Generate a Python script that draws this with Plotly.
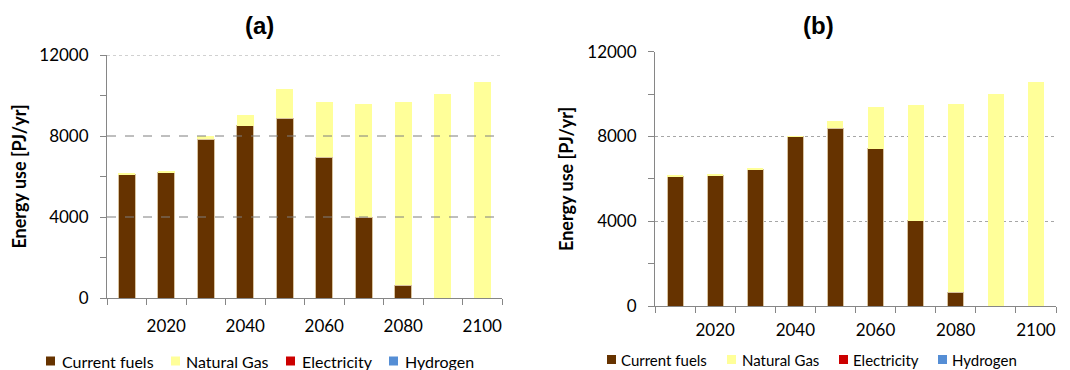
import plotly.graph_objects as go

years = [2010, 2020, 2030, 2040, 2050, 2060, 2070, 2080, 2090, 2100]
tick_years = [2020, 2040, 2060, 2080, 2100]
tick_labels = ["2020", "2040", "2060", "2080", "2100"]
y_ticks = [0, 4000, 8000, 12000]
y_tick_labels = ["0", "4000", "8000", "12000"]
y_minor = [2000, 6000, 10000]
grid_vals = [4000, 8000, 12000]

# Panel (a)
a_current = [6100, 6200, 7830, 8500, 8880, 6950, 4000, 630, 0, 0]
a_gas = [50, 50, 170, 530, 1420, 2740, 5600, 9030, 10070, 10680]
a_elec = [0] * 10
a_h2 = [0] * 10

# Panel (b)
b_current = [6130, 6170, 6460, 8000, 8380, 7410, 4030, 645, 0, 0]
b_gas = [20, 30, 20, 30, 350, 2000, 5440, 8890, 9990, 10570]
b_elec = [0] * 10
b_h2 = [0] * 10

series_names = ["Current fuels", "Natural Gas", "Electricity", "Hydrogen"]
colors = ["#663300", "#FFFF99", "#CC0000", "#558ED5"]
edge = ["#d8c3a0", "#FFFF99", "#CC0000", "#558ED5"]
edge_w = [1, 0, 0, 0]

# the page body has an 8px margin: the figure is offset by it
OFF = 8
W, H = 1070 - OFF, 370 - OFF
FONT = "Lato"

fig = go.Figure()

def px_x(p):
    return (p - OFF) / W

def px_y(p):
    return 1 - (p - OFF) / H

panels = [
    dict(xa="x", ya="y", data=[a_current, a_gas, a_elec, a_h2], bw=4.2,
         xdom=(107, 502), ydom=(298, 55), standoff=13,
         legend_sq=[46, 171, 286, 389], legend_tx=[61, 185, 301, 404], legend_y=361,
         legend_size=16, title="<b>(a)</b>", title_x=259),
    dict(xa="x2", ya="y2", data=[b_current, b_gas, b_elec, b_h2], bw=4.0,
         xdom=(655, 1056), ydom=(306, 51.7), standoff=9,
         legend_sq=[607, 727, 839, 938], legend_tx=[620, 741, 852, 951], legend_y=359.5,
         legend_size=15, title="<b>(b)</b>", title_x=818),
]

for p in panels:
    for name, vals, c, e, ew in zip(series_names, p["data"], colors, edge, edge_w):
        fig.add_trace(go.Bar(
            x=years, y=vals, name=name, xaxis=p["xa"], yaxis=p["ya"],
            width=p["bw"], showlegend=False,
            marker=dict(color=c, line=dict(color=e, width=ew)),
            hovertemplate="%{x}: %{y}<extra>" + name + "</extra>",
        ))

boundaries = [2005 + 10 * i for i in range(11)]

def xaxis_cfg(p, anchor):
    return dict(
        domain=[px_x(p["xdom"][0]), px_x(p["xdom"][1])], anchor=anchor, range=[2005, 2105],
        tickmode="array", tickvals=tick_years, ticktext=tick_labels,
        ticks="", ticklabelstandoff=p["standoff"], showgrid=False, zeroline=False,
        showline=True, linecolor="#868686", linewidth=1, automargin=False,
        tickfont=dict(family=FONT, size=17, color="#000"),
        minor=dict(tickmode="array", tickvals=boundaries, ticks="outside",
                   ticklen=6, tickcolor="#868686", tickwidth=1, showgrid=False),
        fixedrange=True,
    )

def yaxis_cfg(p, anchor, grid):
    return dict(
        domain=[px_y(p["ydom"][0]), px_y(p["ydom"][1])], anchor=anchor, range=[0, 12001],
        tickmode="array", tickvals=y_ticks, ticktext=y_tick_labels,
        ticks="outside", ticklen=6, tickcolor="#868686", ticklabelstandoff=8,
        showgrid=grid, gridcolor="#a6a6a6", griddash="dot", gridwidth=1,
        zeroline=False, showline=True, linecolor="#868686", linewidth=1, automargin=False,
        tickfont=dict(family=FONT, size=17, color="#000"),
        minor=dict(tickmode="array", tickvals=y_minor, ticks="outside",
                   ticklen=6, tickcolor="#868686", showgrid=False),
        title=dict(text="<b>Energy use [PJ/yr]</b>",
                   font=dict(family=FONT, size=18, color="#000"), standoff=8),
        fixedrange=True,
    )

shapes = []
annotations = []

# panel (a): dashed gridlines drawn above the bars
for g in grid_vals:
    shapes.append(dict(type="line", xref="x domain", yref="y", x0=0, x1=1, y0=g, y1=g,
                       line=dict(color="#7f7f7f" if g < 12000 else "#a6a6a6", width=1,
                                 dash="dash" if g < 12000 else "dot"),
                       layer="above"))

for p in panels:
    annotations.append(dict(text=p["title"], x=px_x(p["title_x"]), y=px_y(25),
                            xref="paper", yref="paper", showarrow=False,
                            xanchor="center", yanchor="middle",
                            font=dict(family="Liberation Sans", size=24, color="#000")))
    for name, c, sx, tx in zip(series_names, colors, p["legend_sq"], p["legend_tx"]):
        ly = p["legend_y"]
        shapes.append(dict(type="rect", xref="paper", yref="paper",
                           x0=px_x(sx), x1=px_x(sx + 9), y0=px_y(ly - 4.5), y1=px_y(ly + 4.5),
                           fillcolor=c, line=dict(width=0)))
        annotations.append(dict(text=name, x=px_x(tx), y=px_y(ly), xref="paper", yref="paper",
                                showarrow=False, xanchor="left", yanchor="middle",
                                borderpad=0,
                                font=dict(family=FONT, size=p["legend_size"], color="#000")))

fig.update_layout(
    width=W, height=H, margin=dict(l=0, r=0, t=0, b=0, autoexpand=False),
    paper_bgcolor="white", plot_bgcolor="white", barmode="stack",
    xaxis=xaxis_cfg(panels[0], "y"),
    yaxis=yaxis_cfg(panels[0], "x", False),
    xaxis2=xaxis_cfg(panels[1], "y2"),
    yaxis2=yaxis_cfg(panels[1], "x2", True),
    shapes=shapes, annotations=annotations, showlegend=False,
)

fig.write_html("out.html")
